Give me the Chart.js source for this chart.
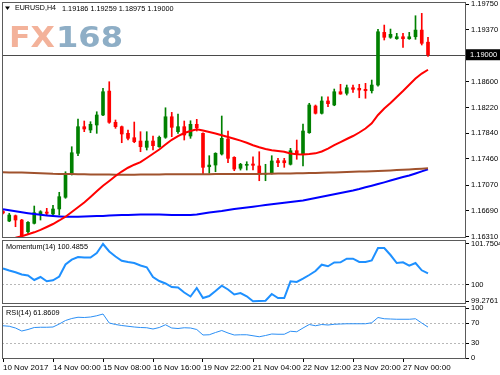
<!DOCTYPE html>
<html>
<head>
<meta charset="utf-8">
<script src="https://cdn.jsdelivr.net/npm/chart.js@4.4.0/dist/chart.umd.min.js"></script>
<style>
  html, body { margin: 0; padding: 0; background: #fff; }
  #wrap { position: relative; width: 500px; height: 375px; }
  #wrap canvas { position: absolute; left: 0; top: 0; }
</style>
</head>
<body>
<div id="wrap">
  <canvas id="priceChart" width="500" height="375"></canvas>
  <canvas id="momChart" width="500" height="375"></canvas>
  <canvas id="rsiChart" width="500" height="375"></canvas>
</div>
<script>
// -- THE DATA --

const symbolName = "EURUSD,H4";

const barOpen = [
  1.16682,1.16541,1.16620,1.16556,1.16383,1.16507,1.16645,1.16674,1.16645,1.16719,
  1.16892,1.17236,1.17542,1.17936,1.17887,1.17961,1.18109,1.18463,1.18001,1.17936,
  1.17838,1.17773,1.17724,1.17631,1.17724,1.17640,1.17779,1.18083,1.17862,1.17936,
  1.17798,1.17971,1.17838,1.17344,1.17369,1.17532,1.17754,1.17483,1.17321,1.17365,
  1.17384,1.17355,1.17232,1.17247,1.17433,1.17433,1.17380,1.17581,1.17528,1.17847,
  1.18242,1.18134,1.18316,1.18257,1.18453,1.18430,1.18512,1.18503,1.18489,1.18468,
  1.18552,1.19331,1.19258,1.19237,1.19266,1.19237,1.19266,1.19365,1.19186
];

const barHigh = [
  1.16697,1.16655,1.16630,1.16566,1.16531,1.16763,1.16694,1.16729,1.16773,1.16966,
  1.17270,1.17640,1.18050,1.18020,1.18010,1.18157,1.18503,1.18601,1.18035,1.17946,
  1.17887,1.18005,1.17862,1.17862,1.17798,1.17798,1.18216,1.18148,1.18123,1.18020,
  1.18024,1.18045,1.17847,1.17507,1.17551,1.18094,1.17872,1.17492,1.17394,1.17418,
  1.17492,1.17566,1.17380,1.17507,1.17468,1.17468,1.17616,1.17739,1.17976,1.18282,
  1.18257,1.18379,1.18379,1.18493,1.18563,1.18552,1.18552,1.18563,1.18577,1.18626,
  1.19376,1.19439,1.19380,1.19317,1.19317,1.19331,1.19577,1.19612,1.19259
];

const barLow = [
  1.16645,1.16531,1.16457,1.16309,1.16359,1.16497,1.16556,1.16630,1.16634,1.16630,
  1.16877,1.17221,1.17507,1.17862,1.17847,1.17838,1.18098,1.17986,1.17912,1.17699,
  1.17739,1.17699,1.17566,1.17591,1.17591,1.17631,1.17764,1.17788,1.17838,1.17739,
  1.17764,1.17872,1.17236,1.17247,1.17270,1.17517,1.17403,1.17285,1.17295,1.17295,
  1.17295,1.17137,1.17137,1.17236,1.17344,1.17335,1.17369,1.17454,1.17355,1.17838,
  1.18123,1.18123,1.18231,1.18246,1.18415,1.18404,1.18444,1.18364,1.18356,1.18434,
  1.18537,1.19218,1.19243,1.19228,1.19110,1.19228,1.19228,1.19144,1.18975
];

const barClose = [
  1.16660,1.16630,1.16556,1.16324,1.16522,1.16664,1.16679,1.16655,1.16719,1.16901,
  1.17247,1.17551,1.17936,1.17902,1.17971,1.18109,1.18453,1.18001,1.17936,1.17828,
  1.17764,1.17714,1.17640,1.17724,1.17655,1.17779,1.18083,1.17927,1.17936,1.17813,
  1.17971,1.17921,1.17335,1.17369,1.17542,1.17764,1.17468,1.17310,1.17380,1.17380,
  1.17365,1.17247,1.17247,1.17429,1.17403,1.17403,1.17581,1.17532,1.17872,1.18257,
  1.18134,1.18316,1.18276,1.18453,1.18419,1.18512,1.18489,1.18478,1.18468,1.18552,
  1.19340,1.19258,1.19302,1.19266,1.19237,1.19266,1.19365,1.19169,1.19000
];

// moving averages as they appear on the chart
const maFast = [
  1.16246,1.16275,1.16293,1.16317,1.16345,1.16374,1.16411,1.16453,1.16497,1.16549,
  1.16605,1.16674,1.16744,1.16815,1.16896,1.16980,1.17062,1.17133,1.17207,1.17273,
  1.17329,1.17374,1.17411,1.17473,1.17536,1.17599,1.17672,1.17742,1.17798,1.17843,
  1.17872,1.17897,1.17879,1.17857,1.17835,1.17810,1.17783,1.17757,1.17730,1.17698,
  1.17661,1.17631,1.17606,1.17588,1.17576,1.17565,1.17539,1.17528,1.17526,1.17532,
  1.17542,1.17569,1.17613,1.17665,1.17709,1.17754,1.17798,1.17850,1.17909,1.17986,
  1.18109,1.18205,1.18286,1.18375,1.18463,1.18557,1.18648,1.18722,1.18778
];

const maSlow = [
  1.17261,1.17260,1.17258,1.17257,1.17254,1.17251,1.17248,1.17244,1.17239,1.17238,
  1.17236,1.17235,1.17233,1.17232,1.17230,1.17230,1.17229,1.17229,1.17227,1.17227,
  1.17227,1.17227,1.17229,1.17229,1.17230,1.17230,1.17232,1.17232,1.17232,1.17233,
  1.17233,1.17233,1.17233,1.17233,1.17235,1.17235,1.17235,1.17235,1.17236,1.17236,
  1.17236,1.17238,1.17239,1.17241,1.17242,1.17244,1.17245,1.17247,1.17248,1.17251,
  1.17253,1.17255,1.17257,1.17260,1.17263,1.17266,1.17269,1.17272,1.17275,1.17278,
  1.17281,1.17285,1.17290,1.17294,1.17298,1.17303,1.17309,1.17315,1.17321
];

const maMid = [
  1.16716,1.16701,1.16686,1.16671,1.16657,1.16645,1.16633,1.16623,1.16615,1.16608,
  1.16603,1.16603,1.16605,1.16608,1.16611,1.16614,1.16617,1.16621,1.16626,1.16629,
  1.16630,1.16633,1.16636,1.16638,1.16638,1.16636,1.16633,1.16630,1.16629,1.16629,
  1.16630,1.16638,1.16652,1.16667,1.16677,1.16689,1.16704,1.16719,1.16731,1.16741,
  1.16753,1.16765,1.16778,1.16790,1.16800,1.16811,1.16822,1.16834,1.16845,1.16862,
  1.16881,1.16899,1.16918,1.16936,1.16955,1.16973,1.16992,1.17014,1.17040,1.17063,
  1.17088,1.17113,1.17140,1.17167,1.17192,1.17214,1.17244,1.17276,1.17306
];

const momentum14 = [
  100.693,100.606,100.528,100.433,100.390,100.196,100.326,100.140,100.183,100.347,
  100.865,101.073,101.189,101.168,101.168,101.362,101.7504,101.427,101.211,101.029,
  100.973,100.930,100.822,100.744,100.326,100.153,100.045,99.894,99.872,99.656,
  99.483,99.851,99.419,99.505,99.721,99.950,99.786,99.570,99.635,99.492,
  99.2761,99.289,99.302,99.591,99.419,99.419,100.140,100.110,100.252,100.412,
  100.585,100.857,100.788,100.952,100.960,101.116,101.116,100.973,100.973,101.038,
  101.578,101.578,101.275,100.930,100.960,100.813,100.930,100.615,100.4855
];

const rsi14 = [
  64.5,63.5,60,54,57,61,61.5,61.5,62,68,
  75,79,81.5,81,82,84.5,88,70,67,65,
  63.5,62,61,60.5,58,61,66.5,60,59,60.5,
  60,57,46,46.5,51,55,50,46,46.5,46.5,
  44.5,42.5,45,48,47.5,47.5,53.5,52.5,60,67,
  64.5,67,66,67.5,68,68.5,68.5,68.5,68.5,70.5,
  81,78.5,78,77.5,77.5,77.5,78.5,70,61.8609
];

const priceTicks = [1.19750,1.19370,1.18600,1.18220,1.17840,1.17460,1.17070,1.16690,1.16310];
const momTicks = [101.7504, 100, 99.2761];
const rsiTicks = [100, 70, 30, 0];

const timeTickBars = [0, 8, 16, 24, 32, 40, 48, 56, 64];
const timeTickLabels = [
  "10 Nov 2017","14 Nov 00:00","15 Nov 08:00","16 Nov 16:00","19 Nov 22:00",
  "21 Nov 04:00","22 Nov 12:00","23 Nov 20:00","27 Nov 00:00"
];

// -- SHARED SETTINGS --

const FONT = '"Liberation Sans", Arial, "DejaVu Sans", sans-serif';
Chart.defaults.font.family = FONT;
Chart.defaults.font.size = 7.5;
Chart.defaults.color = '#000';

const lastBar = barClose.length - 1;
const X_MIN = -0.16, X_MAX = 74.08;
const AXIS_W = 34;

const pts = arr => arr.map((v, i) => ({ x: i, y: v }));
const isUp = i => barClose[i] >= barOpen[i];
const candleColor = ctx => isUp(ctx.dataIndex) ? '#008000' : '#ff0000';

const framePlugin = {
  id: 'frame',
  afterDraw(chart) {
    const { ctx, chartArea: a } = chart;
    ctx.save();
    ctx.strokeStyle = '#5a5a5a';
    ctx.lineWidth = 1;
    ctx.strokeRect(a.left + 0.5, a.top + 0.5, a.right - a.left - 1, a.bottom - a.top - 1);
    ctx.restore();
  }
};

const panelTitle = {
  id: 'panelTitle',
  afterDraw(chart, args, opts) {
    if (!opts.text) return;
    const { ctx, chartArea: a } = chart;
    ctx.save();
    ctx.font = '7.3px ' + FONT;
    ctx.fillStyle = '#000';
    ctx.textBaseline = 'middle';
    ctx.fillText(opts.text, a.left + 4, a.top + 7);
    ctx.restore();
  }
};

function rightAxis(min, max, ticks, fmt, dashed) {
  return {
    position: 'right',
    min: min,
    max: max,
    afterBuildTicks: s => { s.ticks = ticks.map(v => ({ value: v })); },
    afterFit: s => { s.width = AXIS_W; s.paddingTop = 0; s.paddingBottom = 0; },
    ticks: { padding: 2, callback: fmt },
    grid: {
      drawOnChartArea: !!dashed,
      color: c => (dashed && dashed.includes(c.tick.value)) ? '#b8b8b8' : 'rgba(0,0,0,0)',
      tickLength: 3,
      tickColor: '#000'
    },
    border: { display: false, dash: [2, 2] }
  };
}

function hiddenX() {
  return { type: 'linear', min: X_MIN, max: X_MAX, offset: false, display: false };
}

// -- PRICE PANEL --

const priceExtras = {
  id: 'priceExtras',
  beforeDatasetsDraw(chart) {
    const { ctx, chartArea: a, scales } = chart;
    ctx.save();
    // watermark logo
    ctx.font = 'bold 28px "DejaVu Sans", sans-serif';
    ctx.textBaseline = 'alphabetic';
    const stretch = (t, x, w, col) => {
      const m = ctx.measureText(t).width;
      ctx.save();
      ctx.translate(x, 47);
      ctx.scale(w / m, 1);
      ctx.fillStyle = col;
      ctx.fillText(t, 0, 0);
      ctx.restore();
    };
    stretch('FX', 9, 46, '#f3b29a');
    stretch('168', 56, 67, '#8eaec6');
    // header
    ctx.fillStyle = '#000';
    ctx.beginPath();
    ctx.moveTo(5, 6.5); ctx.lineTo(10, 6.5); ctx.lineTo(7.5, 10); ctx.closePath();
    ctx.fill();
    ctx.font = '7.1px ' + FONT;
    ctx.textBaseline = 'middle';
    ctx.fillText(symbolName, 15, 8.5);
    const ohlc = [barOpen[lastBar], barHigh[lastBar], barLow[lastBar], barClose[lastBar]]
      .map(v => v.toFixed(5)).join(' ');
    ctx.font = '7.3px ' + FONT;
    ctx.fillText(ohlc, 62, 8.5);
    // bid line
    const y = Math.round(scales.y.getPixelForValue(barClose[lastBar])) + 0.5;
    ctx.strokeStyle = '#4a4a4a';
    ctx.lineWidth = 1;
    ctx.beginPath();
    ctx.moveTo(a.left, y);
    ctx.lineTo(a.right, y);
    ctx.stroke();
    ctx.restore();
  },
  afterDraw(chart) {
    const { ctx, chartArea: a, scales } = chart;
    const y = scales.y.getPixelForValue(barClose[lastBar]);
    ctx.save();
    ctx.fillStyle = '#000';
    ctx.fillRect(a.right, y - 5.5, 500 - a.right, 11);
    ctx.fillStyle = '#fff';
    ctx.font = '7.5px ' + FONT;
    ctx.textBaseline = 'middle';
    ctx.fillText(barClose[lastBar].toFixed(5), a.right + 4, y + 0.5);
    ctx.restore();
  }
};

new Chart('priceChart', {
  type: 'bar',
  data: {
    datasets: [
      { type: 'line', data: pts(maFast), borderColor: '#ff0000', borderWidth: 2, pointRadius: 0, order: 1 },
      { type: 'line', data: pts(maSlow), borderColor: '#a0522d', borderWidth: 2, pointRadius: 0, order: 1 },
      { type: 'line', data: pts(maMid), borderColor: '#0000ff', borderWidth: 2, pointRadius: 0, order: 1 },
      {
        type: 'bar',
        data: barLow.map((v, i) => ({ x: i, y: [v, barHigh[i]] })),
        backgroundColor: candleColor, barThickness: 1, grouped: false, order: 3
      },
      {
        type: 'bar',
        data: barOpen.map((v, i) => ({ x: i, y: [v, barClose[i]] })),
        backgroundColor: candleColor, barThickness: 3, minBarLength: 1, grouped: false, order: 2
      }
    ]
  },
  options: {
    responsive: false,
    animation: false,
    events: [],
    layout: { padding: { left: 2, right: 0, top: 2, bottom: 137 } },
    plugins: { legend: { display: false }, tooltip: { enabled: false } },
    scales: {
      x: hiddenX(),
      y: Object.assign(rightAxis(1.16290, 1.19780, priceTicks, v => v.toFixed(5), null), { beginAtZero: false })
    }
  },
  plugins: [priceExtras, framePlugin]
});

// -- MOMENTUM PANEL --

new Chart('momChart', {
  type: 'line',
  data: {
    datasets: [{ data: pts(momentum14), borderColor: '#1e90ff', borderWidth: 2, pointRadius: 0 }]
  },
  options: {
    responsive: false,
    animation: false,
    events: [],
    layout: { padding: { left: 2, right: 0, top: 240, bottom: 71 } },
    plugins: {
      legend: { display: false }, tooltip: { enabled: false },
      panelTitle: { text: 'Momentum(14) ' + momentum14[lastBar].toFixed(4) }
    },
    scales: {
      x: hiddenX(),
      y: rightAxis(99.160, 101.923, momTicks, v => String(v), [100])
    }
  },
  plugins: [panelTitle, framePlugin]
});

// -- RSI PANEL --

new Chart('rsiChart', {
  type: 'line',
  data: {
    datasets: [{ data: pts(rsi14), borderColor: '#2b8ff5', borderWidth: 1, pointRadius: 0 }]
  },
  options: {
    responsive: false,
    animation: false,
    events: [],
    layout: { padding: { left: 2, right: 0, top: 306, bottom: 0 } },
    plugins: {
      legend: { display: false }, tooltip: { enabled: false },
      panelTitle: { text: 'RSI(14) ' + rsi14[lastBar].toFixed(4) }
    },
    scales: {
      x: {
        type: 'linear', min: X_MIN, max: X_MAX, offset: false,
        afterBuildTicks: s => { s.ticks = timeTickBars.map(v => ({ value: v })); },
        afterFit: s => { s.height = 16; s.paddingLeft = 0; s.paddingRight = 0; },
        ticks: {
          align: 'start', padding: 1, maxRotation: 0, autoSkip: false, font: { size: 8 },
          callback: v => timeTickLabels[timeTickBars.indexOf(v)]
        },
        grid: { drawOnChartArea: false, tickLength: 3, tickColor: '#000' },
        border: { display: false }
      },
      y: rightAxis(-2, 104, rsiTicks, v => String(v), [70, 30])
    }
  },
  plugins: [panelTitle, framePlugin]
});
</script>
</body>
</html>
